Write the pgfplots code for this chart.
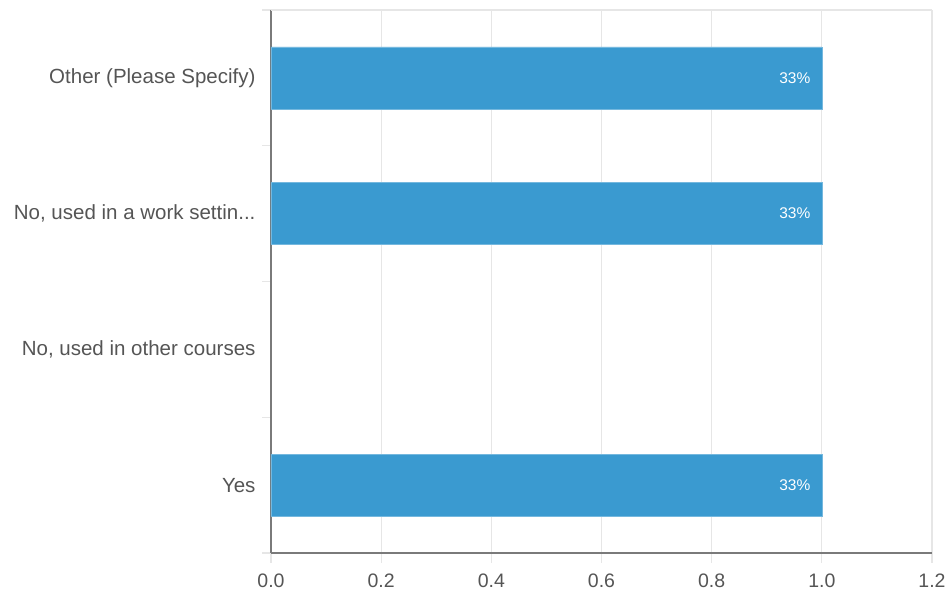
\documentclass[border=0pt]{standalone}
\usepackage{pgfplots}
\pgfplotsset{compat=1.18}
\usepackage{fontspec}
\setmainfont{Liberation Sans}
\definecolor{barblue}{HTML}{3A9AD0}
\definecolor{txtgray}{HTML}{555555}
\definecolor{axgray}{HTML}{7A7A7A}
\definecolor{gridgray}{HTML}{E6E6E6}
\begin{document}
\begin{tikzpicture}
\path[use as bounding box] (-271pt,-44pt) rectangle (680pt,553pt);
\begin{axis}[
    at={(0pt,0pt)}, anchor=south west,
    scale only axis, width=661pt, height=543pt,
    xbar, bar width=62pt,
    xmin=0, xmax=1.2, ymin=-0.5, ymax=3.5,
    axis x line*=bottom, axis y line*=left,
    axis line style={axgray, line width=2.4pt},
    xtick={0,0.2,...,1.2},
    xticklabel style={/pgf/number format/fixed, /pgf/number format/fixed zerofill, /pgf/number format/precision=1, /pgf/number format/assume math mode=true, font=\fontsize{19.5}{19.5}\selectfont, text=txtgray, yshift=-7pt},
    xmajorgrids, grid style={gridgray, line width=1.2pt},
    x tick style={gridgray, line width=1.2pt}, major x tick style={gridgray},
    tick align=outside, major tick length=10pt,
    ytick={0,1,2,3},
    yticklabels={Yes, {No, used in other courses}, {No, used in a work settin.{}.{}.}, {Other (Please Specify)}},
    major y tick style={draw=none},
    minor ytick={-0.5,0.5,1.5,2.5,3.5},
    minor y tick style={gridgray, line width=1.2pt},
    minor tick length=9pt,
    yticklabel style={font=\fontsize{20.5}{20.5}\selectfont, text=txtgray, xshift=-2pt},
    nodes near coords={33\%},
    nodes near coords style={anchor=east, xshift=-8pt, text=white, font=\fontsize{15.5}{15.5}\selectfont},
    clip=false,
]
\addplot[fill=barblue, draw=barblue!70!white] coordinates {(1,0) (1,2) (1,3)};
\draw[gridgray, line width=1.2pt] (axis cs:0,3.5) -- (axis cs:1.2,3.5);
\end{axis}
\end{tikzpicture}
\end{document}
